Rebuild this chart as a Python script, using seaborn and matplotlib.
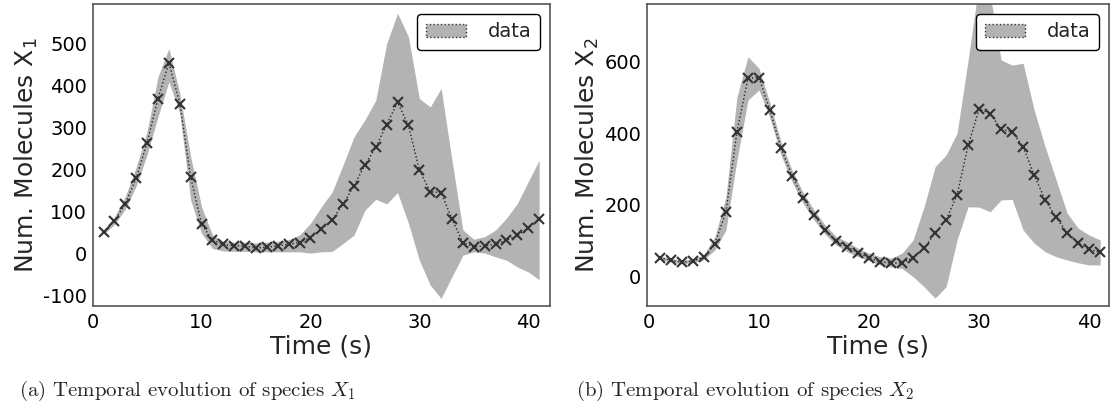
import numpy as np
import pandas as pd
import matplotlib
matplotlib.use("Agg")
import matplotlib.pyplot as plt
import seaborn as sns
from matplotlib.patches import Patch

sns.set_theme(style="white")
plt.rcParams['font.family'] = ['DejaVu Sans']
plt.rcParams['mathtext.fontset'] = 'cm'
plt.rcParams['mathtext.default'] = 'regular'

time = list(range(1, 42))

x1_mean = [50, 77, 118, 179, 263, 368, 453, 356, 180, 69,
           31, 21, 17, 17, 12, 14, 17, 21, 25, 37,
           57, 79, 117, 160, 210, 252, 306, 359, 304, 198,
           146, 144, 81, 25, 15, 17, 21, 31, 42, 60, 80]
x1_upper = [55, 86, 135, 205, 290, 420, 487, 380, 229, 110,
            43, 28, 26, 26, 24, 26, 28, 32, 43, 71,
            110, 146, 210, 277, 317, 364, 499, 571, 515, 368,
            348, 392, 221, 55, 33, 39, 55, 83, 118, 170, 221]
x1_lower = [45, 68, 105, 160, 235, 325, 408, 333, 126, 47,
            11, 5, 4, 4, 3, 3, 3, 3, 3, 0,
            3, 4, 23, 43, 102, 128, 117, 144, 71, -17,
            -76, -108, -56, -5, 3, 0, -9, -17, -33, -45, -63]

x2_mean = [51, 44, 39, 42, 53, 91, 180, 404, 554, 556,
           464, 358, 281, 219, 171, 130, 99, 82, 65, 51,
           40, 36, 37, 51, 78, 120, 157, 227, 366, 468,
           455, 411, 404, 362, 283, 213, 164, 121, 93, 75, 66]
x2_upper = [56, 49, 44, 47, 60, 110, 222, 502, 614, 582,
            484, 376, 297, 234, 185, 143, 111, 96, 78, 64,
            54, 50, 64, 101, 194, 306, 339, 400, 605, 820,
            790, 605, 591, 596, 465, 362, 269, 176, 134, 115, 101]
x2_lower = [46, 39, 34, 37, 46, 73, 129, 325, 493, 521,
            442, 339, 264, 204, 157, 117, 87, 68, 54, 43,
            31, 26, 21, -2, -30, -62, -30, 101, 194, 193,
            180, 213, 215, 129, 92, 68, 54, 45, 37, 31, 31]

ylabels = ["Num. Molecules X$_1$", "Num. Molecules X$_2$"]
captions = [r"(a) Temporal evolution of species $\mathit{X}_{\mathrm{1}}$",
            r"(b) Temporal evolution of species $\mathit{X}_{\mathrm{2}}$"]

fig = plt.figure(figsize=(11.19, 4.16), dpi=100)
W, H = 1119, 416
axes_px = [(92.7, 4, 550, 306), (646.7, 4, 1109, 306)]
xlims = [(0, 42), (-0.2, 41.8)]
ylims = [(-126, 593), (-84, 762)]
yticks = [[-100, 0, 100, 200, 300, 400, 500], [0, 200, 400, 600]]
series = [(x1_mean, x1_upper, x1_lower), (x2_mean, x2_upper, x2_lower)]
spine_col = '#555555'

for i in range(2):
    l, t, r, b = axes_px[i]
    ax = fig.add_axes([l / W, 1 - b / H, (r - l) / W, (b - t) / H])
    mean, up, lo = series[i]
    ax.fill_between(time, lo, up, color='#b3b3b3', linewidth=0, zorder=1)
    df = pd.DataFrame({'t': time, 'v': mean})
    sns.lineplot(data=df, x='t', y='v', ax=ax, color='#222222', linestyle=':',
                 linewidth=1.0, marker='x', markersize=7, markeredgewidth=1.5,
                 markeredgecolor='#333333', zorder=3)
    ax.set_xlim(*xlims[i])
    ax.set_ylim(*ylims[i])
    ax.set_xticks([0, 10, 20, 30, 40])
    ax.set_yticks(yticks[i])
    ax.set_yticklabels([str(v) for v in yticks[i]])
    ax.tick_params(direction='in', length=4, width=0.8, colors='#333333',
                   labelsize=14, labelcolor='black', pad=4)
    ax.tick_params(axis='x', pad=5)
    for s in ax.spines.values():
        s.set_color(spine_col)
        s.set_linewidth(1.2)
    ax.set_xlabel("Time (s)", fontsize=18, labelpad=2)
    ax.set_ylabel(ylabels[i], fontsize=18, labelpad=2)
    handle = Patch(facecolor='#b3b3b3', edgecolor='#333333', linestyle=':', linewidth=1.0)
    leg = ax.legend([handle], ['data'], loc='upper right', fontsize=14,
                    frameon=True, fancybox=True, framealpha=1,
                    edgecolor='black', handlelength=2.1, handleheight=0.7,
                    handletextpad=1.1, borderaxespad=0.5, borderpad=0.45)
    leg.get_frame().set_linewidth(1.0)

fig.text(187 / W, 1 - 391 / H, captions[0], ha='center', va='center',
         fontsize=15, family='cmr10')
fig.text(745 / W, 1 - 391 / H, captions[1], ha='center', va='center',
         fontsize=15, family='cmr10')

fig.savefig("out.png", dpi=100)
